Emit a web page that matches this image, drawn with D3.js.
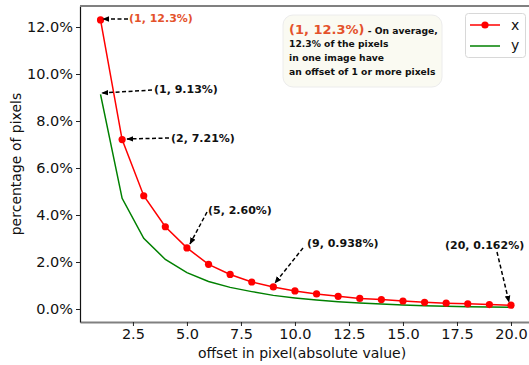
<!DOCTYPE html>
<html><head><meta charset="utf-8">
<script src="https://cdn.jsdelivr.net/npm/d3@7"></script>
<style>body{margin:0;background:#fff}svg{display:block;font-family:"DejaVu Sans",sans-serif}</style>
</head><body><svg id="c" width="529" height="365"></svg>
<script>
const xs = d3.range(1, 21);
const xVals = [12.3, 7.21, 4.82, 3.50, 2.60, 1.90, 1.47, 1.15, 0.938, 0.77, 0.64, 0.54, 0.45, 0.40, 0.34, 0.285, 0.25, 0.22, 0.19, 0.162];
const yVals = [9.13, 4.71, 3.01, 2.11, 1.55, 1.17, 0.92, 0.74, 0.58, 0.47, 0.38, 0.31, 0.26, 0.21, 0.17, 0.14, 0.12, 0.10, 0.085, 0.07];
const xTicks = [2.5, 5.0, 7.5, 10.0, 12.5, 15.0, 17.5, 20.0];
const yTicks = [0, 2, 4, 6, 8, 10, 12];
const annotations = [
  {label: "(1, 12.3%)", px: 1, py: 12.3, tx: 129, ty: 18, sx: 128, sy: 19, hx: 103, hy: 19, color: "#e4522b"},
  {label: "(1, 9.13%)", px: 1, py: 9.13, tx: 154, ty: 89, sx: 152, sy: 90, hx: 102, hy: 93, color: "#111"},
  {label: "(2, 7.21%)", px: 2, py: 7.21, tx: 171, ty: 138, sx: 169, sy: 138, hx: 127, hy: 139, color: "#111"},
  {label: "(5, 2.60%)", px: 5, py: 2.60, tx: 208, ty: 210, sx: 207, sy: 212, hx: 190, hy: 244, color: "#111"},
  {label: "(9, 0.938%)", px: 9, py: 0.938, tx: 307, ty: 243, sx: 303, sy: 248, hx: 275, hy: 283, color: "#111"},
  {label: "(20, 0.162%)", px: 20, py: 0.162, tx: 445, ty: 245, sx: 497, sy: 252, hx: 509, hy: 302, color: "#111"}
];
const noteLines = ["12.3% of the pixels", "in one image have", "an offset of 1 or more pixels"];

const svg = d3.select("#c");
const L = 80, R = 531.5, T = 6, B = 322;
const x = d3.scaleLinear().domain([0.05, 20.95]).range([L, R]);
const y = d3.scaleLinear().domain([-0.553, 12.894]).range([B, T]);

// axes
const gx = svg.append("g").attr("transform", `translate(0,${B})`)
  .call(d3.axisBottom(x).tickValues(xTicks).tickFormat(d3.format(".1f")).tickSize(4).tickSizeOuter(0));
const gy = svg.append("g").attr("transform", `translate(${L},0)`)
  .call(d3.axisLeft(y).tickValues(yTicks).tickFormat(d => d.toFixed(1) + "%").tickSize(4).tickSizeOuter(0));
[gx, gy].forEach(g => {
  g.selectAll("text").attr("font-family", "DejaVu Sans").attr("font-size", 14.5).attr("fill", "#111");
  g.selectAll(".tick line").attr("stroke", "#222");
});
gx.selectAll("text").attr("dy", "0.71em").attr("y", 7);
gy.selectAll("text").attr("x", -7);
gx.select(".domain").attr("stroke", "#808080").attr("stroke-width", 2);
gy.select(".domain").attr("stroke", "#111").attr("stroke-width", 1.2);
svg.append("line").attr("x1", L).attr("x2", 529).attr("y1", T).attr("y2", T)
  .attr("stroke", "#808080").attr("stroke-width", 2);

// labels
svg.append("text").attr("x", 302).attr("y", 358).attr("text-anchor", "middle")
  .attr("font-size", 14).attr("fill", "#111").text("offset in pixel(absolute value)");
svg.append("text").attr("transform", `translate(21,${(T + B) / 2}) rotate(-90)`).attr("text-anchor", "middle")
  .attr("font-size", 14).attr("fill", "#111").text("percentage of pixels");

// lines
const line = d3.line().x(d => x(d[0])).y(d => y(d[1]));
svg.append("path").datum(xs.map((v, i) => [v, yVals[i]])).attr("d", line)
  .attr("fill", "none").attr("stroke", "#008000").attr("stroke-width", 1.5);
svg.append("path").datum(xs.map((v, i) => [v, xVals[i]])).attr("d", line)
  .attr("fill", "none").attr("stroke", "#ff0000").attr("stroke-width", 1.5);
svg.selectAll("circle.pt").data(xs.map((v, i) => [v, xVals[i]])).join("circle")
  .attr("class", "pt").attr("cx", d => x(d[0])).attr("cy", d => y(d[1])).attr("r", 3.6).attr("fill", "#ff0000");

// arrowhead
svg.append("defs").append("marker").attr("id", "ah").attr("viewBox", "0 0 10 10")
  .attr("refX", 9).attr("refY", 5).attr("markerWidth", 7).attr("markerHeight", 7)
  .attr("markerUnits", "userSpaceOnUse").attr("orient", "auto")
  .append("path").attr("d", "M0,1 L10,5 L0,9 Z").attr("fill", "#000");

annotations.forEach(a => {
  svg.append("line").attr("x1", a.sx).attr("y1", a.sy).attr("x2", a.hx).attr("y2", a.hy)
    .attr("stroke", "#000").attr("stroke-width", 1.5).attr("stroke-dasharray", "4,2.5")
    .attr("marker-end", "url(#ah)");
  svg.append("text").attr("x", a.tx).attr("y", a.ty).attr("dy", "0.35em")
    .attr("font-size", 11).attr("font-weight", "bold").attr("fill", a.color).text(a.label);
});

// note box
svg.append("rect").attr("x", 283).attr("y", 15).attr("width", 159).attr("height", 72)
  .attr("rx", 10).attr("fill", "#fafaf2").attr("stroke", "#ececec").attr("stroke-width", 1);
const t1 = svg.append("text").attr("x", 289).attr("y", 28).attr("dy", "0.35em").attr("font-weight", "bold");
t1.append("tspan").attr("font-size", 13).attr("fill", "#e4522b").text("(1, 12.3%)");
t1.append("tspan").attr("font-size", 9.2).attr("fill", "#111").text(" - On average,");
noteLines.forEach((s, i) => {
  svg.append("text").attr("x", 289).attr("y", 44 + i * 14).attr("dy", "0.35em")
    .attr("font-size", 9.2).attr("font-weight", "bold").attr("fill", "#111").text(s);
});

// legend
svg.append("rect").attr("x", 465.5).attr("y", 13.5).attr("width", 60).attr("height", 44)
  .attr("rx", 3).attr("fill", "#fff").attr("stroke", "#d8d8d8");
svg.append("line").attr("x1", 470).attr("x2", 500).attr("y1", 25).attr("y2", 25).attr("stroke", "#ff0000").attr("stroke-width", 1.5);
svg.append("circle").attr("cx", 485).attr("cy", 25).attr("r", 3.6).attr("fill", "#ff0000");
svg.append("line").attr("x1", 470).attr("x2", 500).attr("y1", 46).attr("y2", 46).attr("stroke", "#008000").attr("stroke-width", 1.5);
svg.append("text").attr("x", 511).attr("y", 25).attr("dy", "0.35em").attr("font-size", 14).attr("fill", "#111").text("x");
svg.append("text").attr("x", 511).attr("y", 45).attr("dy", "0.35em").attr("font-size", 14).attr("fill", "#111").text("y");
</script></body></html>
